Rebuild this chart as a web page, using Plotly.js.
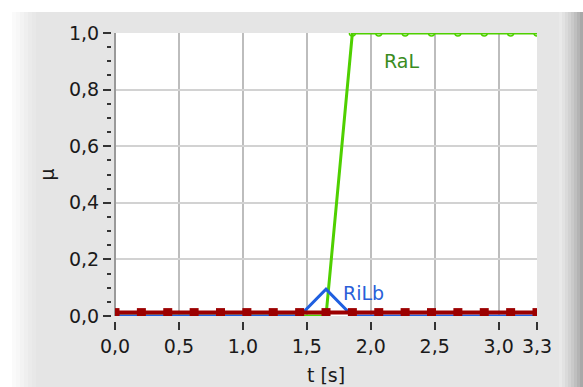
<!DOCTYPE html>
<html>
<head>
<meta charset="utf-8">
<script src="https://cdn.plot.ly/plotly-3.0.1.min.js"></script>
<style>html,body{margin:0;padding:0;background:#fff;}#chart{width:583px;height:387px;}</style>
</head>
<body>
<div id="chart"></div>
<script>
// ---- data ----
var timeS = [0, 0.20625, 0.4125, 0.61875, 0.825, 1.03125, 1.2375, 1.44375, 1.65, 1.85625, 2.0625, 2.26875, 2.475, 2.68125, 2.8875, 3.09375, 3.3];
var RaL  = [0, 0, 0, 0, 0, 0, 0, 0, 0, 1, 1, 1, 1, 1, 1, 1, 1];
var RiLb = [0, 0, 0, 0, 0, 0, 0, 0, 0.095, 0, 0, 0, 0, 0, 0, 0, 0];
var base = [0.012, 0.012, 0.012, 0.012, 0.012, 0.012, 0.012, 0.012, 0.012, 0.012, 0.012, 0.012, 0.012, 0.012, 0.012, 0.012, 0.012];
var xTickVals = [0, 0.5, 1.0, 1.5, 2.0, 2.5, 3.0, 3.3];
var xTickText = ["0,0", "0,5", "1,0", "1,5", "2,0", "2,5", "3,0", "3,3"];
var seriesLabels = ["RaL", "RiLb"];
var labelX = [2.24, 1.94];
var labelY = [0.90, 0.08];

// ---- layout helpers (pixel -> paper) ----
var W = 583, H = 387, ML = 111, MR = 46, MT = 33, MB = 66;
var PW = W - ML - MR, PH = H - MT - MB;
function px(x) { return (x - ML) / PW; }
function py(y) { return (H - MB - y) / PH; }
function rect(x0, y0, x1, y1, color) {
  return {type: 'rect', xref: 'paper', yref: 'paper', layer: 'below',
    x0: px(x0), x1: px(x1), y0: py(y1), y1: py(y0),
    fillcolor: color, line: {width: 0}};
}
var shapes = [];
shapes.push(rect(0, 0, 12, H, '#ffffff'));
shapes.push(rect(0, 0, W, 12, '#ffffff'));
var leftGrad = ['#fafafa', '#f7f7f7', '#f3f3f3', '#efefef', '#ebebeb', '#e8e8e8'];
for (var i = 0; i < leftGrad.length; i++) {
  shapes.push(rect(12 + i * 4, 12, 16 + i * 4, H, leftGrad[i]));
}
var rightGrad = ['#e9e9e9', '#e2e2e2', '#dadada', '#d2d2d2', '#c9c9c9', '#bfbfbf', '#b4b4b4', '#a8a8a8'];
for (var j = 0; j < rightGrad.length; j++) {
  shapes.push(rect(559 + j * 3, 12, 562 + j * 3, H, rightGrad[j]));
}

var font = 'DejaVu Sans, Verdana, sans-serif';
var traces = [
  {x: timeS, y: RaL, type: 'scatter', mode: 'lines+markers', name: 'RaL',
   line: {color: '#4fd000', width: 3},
   marker: {symbol: 'circle-open', size: 6, color: '#4fd000', line: {width: 1.5}}},
  {x: timeS, y: RiLb, type: 'scatter', mode: 'lines', name: 'RiLb',
   line: {color: '#1f5fe0', width: 3}},
  {x: timeS, y: base, type: 'scatter', mode: 'lines+markers', name: 'base',
   line: {color: '#9c0000', width: 4},
   marker: {symbol: 'square', size: 9, color: '#9c0000'}}
];

var layout = {
  width: W, height: H,
  margin: {l: ML, r: MR, t: MT, b: MB, pad: 0},
  paper_bgcolor: '#e5e5e5',
  plot_bgcolor: '#ffffff',
  showlegend: false,
  separators: ',.',
  font: {family: font, size: 19, color: '#1a1a1a'},
  xaxis: {
    domain: [4 / PW, 1],
    range: [0, 3.3],
    anchor: 'free', position: 0,
    tickmode: 'array', tickvals: xTickVals, ticktext: xTickText,
    ticks: 'outside', ticklen: 8, tickwidth: 2, tickcolor: '#333333',
    showgrid: true, gridcolor: '#bdbdbd', gridwidth: 2,
    zeroline: true, zerolinecolor: '#9a9a9a', zerolinewidth: 2,
    showline: false,
    tickfont: {family: font, size: 19, color: '#1a1a1a'},
    title: {text: 't [s]', font: {family: font, size: 19, color: '#1a1a1a'}, standoff: 12}
  },
  yaxis: {
    domain: [5 / PH, 1],
    range: [0, 1],
    anchor: 'free', position: 0,
    tickmode: 'linear', tick0: 0, dtick: 0.2, tickformat: '.1f',
    ticks: 'outside', ticklen: 8, tickwidth: 2, tickcolor: '#333333',
    minor: {dtick: 0.05, ticks: 'outside', ticklen: 4, tickwidth: 2, tickcolor: '#333333', showgrid: false},
    showgrid: true, gridcolor: '#d2d2d2', gridwidth: 2,
    zeroline: false, showline: false,
    tickfont: {family: font, size: 19, color: '#1a1a1a'},
    title: {text: 'μ', font: {family: font, size: 19, color: '#1a1a1a'}, standoff: 8}
  },
  shapes: shapes,
  annotations: [
    {x: labelX[0], y: labelY[0], xref: 'x', yref: 'y', text: seriesLabels[0], showarrow: false,
     font: {family: font, size: 19, color: '#3a8c1e'}},
    {x: labelX[1], y: labelY[1], xref: 'x', yref: 'y', text: seriesLabels[1], showarrow: false,
     font: {family: font, size: 19, color: '#2a5fd8'}}
  ]
};

Plotly.newPlot('chart', traces, layout, {displayModeBar: false, staticPlot: true});
</script>
</body>
</html>
